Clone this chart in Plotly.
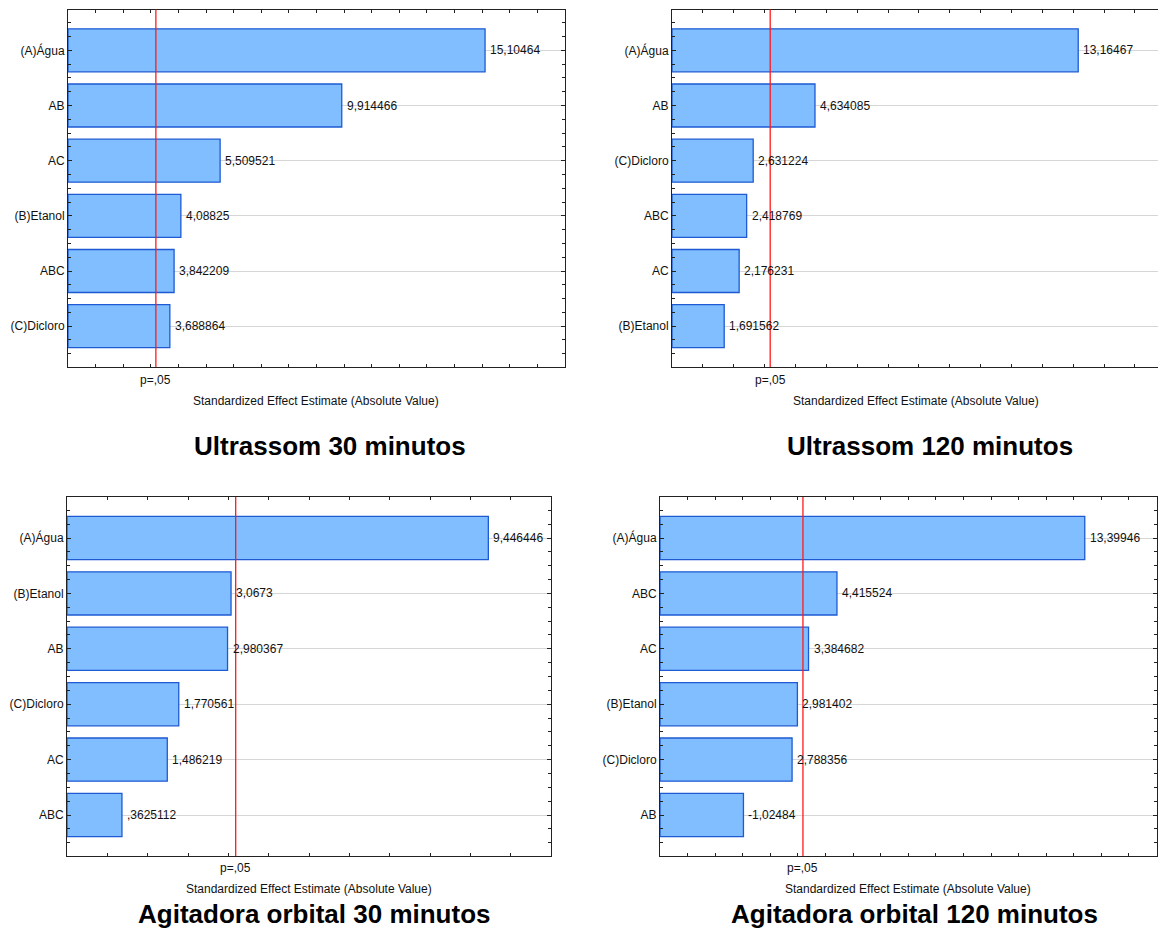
import plotly.graph_objects as go

# Pareto charts of standardized effects (2^3 factorial), one per extraction condition
panel_titles = [
    "Ultrassom 30 minutos",
    "Ultrassom 120 minutos",
    "Agitadora orbital 30 minutos",
    "Agitadora orbital 120 minutos",
]

u30_terms = ["(A)Água", "AB", "AC", "(B)Etanol", "ABC", "(C)Dicloro"]
u30_effects = [15.10464, 9.914466, 5.509521, 4.08825, 3.842209, 3.688864]

u120_terms = ["(A)Água", "AB", "(C)Dicloro", "ABC", "AC", "(B)Etanol"]
u120_effects = [13.16467, 4.634085, 2.631224, 2.418769, 2.176231, 1.691562]

a30_terms = ["(A)Água", "(B)Etanol", "AB", "(C)Dicloro", "AC", "ABC"]
a30_effects = [9.446446, 3.0673, 2.980367, 1.770561, 1.486219, 0.3625112]

a120_terms = ["(A)Água", "ABC", "AC", "(B)Etanol", "(C)Dicloro", "AB"]
a120_effects = [13.39946, 4.415524, 3.384682, 2.981402, 2.788356, -1.02484]

# critical t value for p = 0.05
t_crit = 3.182446
p_label = "p=,05"
x_title = "Standardized Effect Estimate (Absolute Value)"

x_ranges = [[0, 18], [0, 15.75], [-1, 11], [-2, 16]]

W, H = 1158, 931
FONT = "Liberation Sans, Arial, sans-serif"

# plot boxes in pixels: (left, right, top, bottom)
boxes = [
    (68, 565, 9.5, 367),
    (672, 1158, 9.5, 367),
    (67, 551, 497, 856),
    (660, 1156.5, 497, 856),
]
right_border = [True, False, True, True]
p_label_y = [380, 380, 868, 868]
x_title_y = [401, 401, 889, 889]
x_title_x = [316, 916, 309, 908]
title_pos = [(330, 446), (930, 446), (314, 914), (914, 914)]


def fmt(v):
    s = f"{v:.7g}"
    if s.startswith("0."):
        s = s[1:]
    elif s.startswith("-0."):
        s = "-" + s[2:]
    return s.replace(".", ",")


panels = [
    (u30_terms, u30_effects),
    (u120_terms, u120_effects),
    (a30_terms, a30_effects),
    (a120_terms, a120_effects),
]

fig = go.Figure()
layout = dict(
    width=W,
    height=H,
    margin=dict(l=0, r=0, t=0, b=0),
    paper_bgcolor="white",
    plot_bgcolor="white",
    showlegend=False,
    font=dict(family=FONT, size=12, color="#111"),
    annotations=[],
    shapes=[],
)

for i, (terms, effects) in enumerate(panels):
    n = i + 1
    xa = "x" if n == 1 else f"x{n}"
    ya = "y" if n == 1 else f"y{n}"
    xmin, xmax = x_ranges[i]
    pos = list(range(len(terms)))
    mags = [abs(v) for v in effects]

    fig.add_trace(go.Bar(
        x=[m - xmin for m in mags],
        y=pos,
        base=xmin,
        orientation="h",
        width=0.78,
        marker=dict(color="rgb(128,190,255)",
                    line=dict(color="rgb(30,90,210)", width=1.3)),
        xaxis=xa,
        yaxis=ya,
        hoverinfo="skip",
    ))

    left, right, top, bottom = boxes[i]
    xdom = [left / W, min(right / W, 1.0)]
    ydom = [1 - bottom / H, 1 - top / H]

    layout["xaxis" if n == 1 else f"xaxis{n}"] = dict(
        domain=xdom,
        range=[xmin, xmax],
        anchor=ya,
        showline=True,
        linecolor="#222",
        linewidth=1,
        mirror="ticks",
        ticks="inside",
        ticklen=3,
        tickcolor="#222",
        tick0=0,
        dtick=1,
        showticklabels=False,
        showgrid=False,
        zeroline=False,
        automargin=False,
        fixedrange=True,
    )
    layout["yaxis" if n == 1 else f"yaxis{n}"] = dict(
        domain=ydom,
        range=[len(terms) - 1 + 0.74, -0.74],
        anchor=xa,
        tickmode="array",
        tickvals=pos,
        ticktext=terms,
        ticks="inside",
        ticklen=4,
        tickcolor="#222",
        minor=dict(dtick=0.25, tick0=0, ticks="inside", ticklen=3,
                   tickcolor="#222", showgrid=False),
        showline=True,
        linecolor="#222",
        linewidth=1,
        mirror="ticks" if right_border[i] else False,
        showgrid=True,
        gridcolor="#d6d6d6",
        gridwidth=1,
        zeroline=False,
        tickfont=dict(family=FONT, size=12, color="#111"),
        automargin=False,
        fixedrange=True,
    )

    # significance threshold
    layout["shapes"].append(dict(
        type="line", xref=xa, yref=f"{ya} domain",
        x0=t_crit, x1=t_crit, y0=0, y1=1,
        line=dict(color="#ff1a1a", width=1.3),
    ))

    # value labels at the bar ends
    for p, m, v in zip(pos, mags, effects):
        layout["annotations"].append(dict(
            x=m, y=p, xref=xa, yref=ya, text=fmt(v),
            showarrow=False, xanchor="left", yanchor="middle", xshift=3,
            font=dict(family=FONT, size=12, color="#111"),
        ))

    layout["annotations"].append(dict(
        x=t_crit, y=1 - p_label_y[i] / H, xref=xa, yref="paper",
        text=p_label, showarrow=False, xanchor="center", yanchor="middle",
        font=dict(family=FONT, size=12, color="#111"),
    ))
    layout["annotations"].append(dict(
        x=x_title_x[i] / W, y=1 - x_title_y[i] / H, xref="paper", yref="paper",
        text=x_title, showarrow=False, xanchor="center", yanchor="middle",
        font=dict(family=FONT, size=12, color="#111"),
    ))
    tx, ty = title_pos[i]
    layout["annotations"].append(dict(
        x=tx / W, y=1 - ty / H, xref="paper", yref="paper",
        text=f"<b>{panel_titles[i]}</b>", showarrow=False,
        xanchor="center", yanchor="middle",
        font=dict(family=FONT, size=26, color="#000"),
    ))

fig.update_layout(**layout)
fig.write_html("out.html")
